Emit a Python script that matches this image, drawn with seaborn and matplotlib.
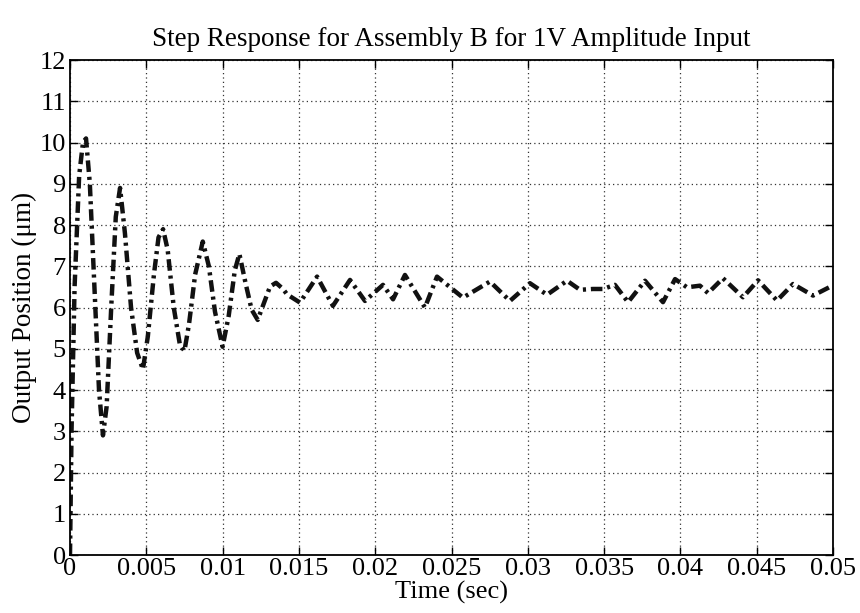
import numpy as np
import pandas as pd
import matplotlib
matplotlib.use("Agg")
import matplotlib.pyplot as plt
import seaborn as sns

# Data
time_s = [0.0, 0.0001, 0.0003, 0.0006, 0.00085, 0.00105, 0.0013, 0.0016, 0.0019,
          0.00216, 0.0024, 0.0027, 0.0030, 0.00328, 0.0036, 0.0040, 0.0044,
          0.00478, 0.0051, 0.0055, 0.0058, 0.0061, 0.0064, 0.0068, 0.0072,
          0.0075, 0.0078, 0.0082, 0.0087, 0.0091, 0.0095, 0.0100, 0.0104,
          0.0108, 0.0111, 0.0115, 0.0119, 0.0123, 0.01311, 0.0135, 0.01396,
          0.01422, 0.01507, 0.01619, 0.01723, 0.01835, 0.01933, 0.02051,
          0.02117, 0.02195, 0.02326, 0.02405, 0.02575, 0.02752, 0.02883,
          0.03014, 0.03126, 0.03257, 0.03342, 0.03427, 0.03493, 0.03571,
          0.03657, 0.03768, 0.03886, 0.03965, 0.04043, 0.04128, 0.04181,
          0.04279, 0.0441, 0.04509, 0.04633, 0.04738, 0.04869, 0.0498, 0.05]
position_um = [0.0, 3.0, 6.5, 9.2, 10.0, 10.1, 9.0, 6.5, 4.0,
               2.9, 3.6, 6.0, 8.2, 8.9, 7.8, 6.0, 4.9,
               4.5, 5.3, 6.8, 7.7, 7.9, 7.4, 6.0, 5.1,
               4.95, 5.6, 6.8, 7.6, 7.0, 5.9, 5.05, 5.8,
               6.9, 7.3, 6.6, 5.95, 5.7, 6.51, 6.6, 6.45,
               6.32, 6.12, 6.75, 6.04, 6.67, 6.16, 6.55,
               6.2, 6.79, 6.0, 6.75, 6.24, 6.63, 6.16,
               6.59, 6.31, 6.65, 6.43, 6.45, 6.45, 6.55,
               6.13, 6.65, 6.13, 6.69, 6.49, 6.53, 6.35,
               6.71, 6.25, 6.66, 6.17, 6.57, 6.29, 6.5, 6.55]

x_ticks = [0, 0.005, 0.01, 0.015, 0.02, 0.025, 0.03, 0.035, 0.04, 0.045, 0.05]
x_tick_labels = ["0", "0.005", "0.01", "0.015", "0.02", "0.025", "0.03",
                 "0.035", "0.04", "0.045", "0.05"]
y_ticks = list(range(0, 13))

title = "Step Response for Assembly B for 1V Amplitude Input"
x_label = "Time (sec)"
y_label = "Output Position (\u03bcm)"

df = pd.DataFrame({"t": time_s, "pos": position_um})

sns.set_theme(style="white")
plt.rcParams["font.family"] = ["Liberation Serif", "DejaVu Serif"]

fig = plt.figure(figsize=(8.6, 6.13), dpi=100)
fig.patch.set_facecolor("white")
ax = fig.add_axes([0.0814, 0.0946, 0.8872, 0.8074])
ax.set_facecolor("white")

sns.lineplot(data=df, x="t", y="pos", ax=ax, color="#111111", linewidth=3.2,
             linestyle=(0, (2.6, 1.1, 0.7, 1.1)), estimator=None, sort=False)

ax.set_xlim(0, 0.05)
ax.set_ylim(0, 12)
ax.set_xticks(x_ticks)
ax.set_xticklabels(x_tick_labels)
ax.set_yticks(y_ticks)
ax.set_yticklabels([str(v) for v in y_ticks])

ax.grid(True, linestyle=(0, (1, 2.5)), color="#333333", linewidth=0.9)
for s in ax.spines.values():
    s.set_visible(True)
    s.set_color("black")
    s.set_linewidth(1.3)

ax.tick_params(axis="both", which="both", direction="in", length=6, width=1,
               top=True, right=True, bottom=True, left=True,
               labelsize=19, colors="black")
ax.tick_params(axis="x", pad=2)
ax.tick_params(axis="y", pad=3)

ax.set_title(title, fontsize=19.5, pad=10, color="black")
ax.set_xlabel(x_label, fontsize=19, labelpad=1, color="black")
ax.set_ylabel(y_label, fontsize=19.5, labelpad=2, color="black")

fig.savefig("out.png", dpi=100, facecolor="white")
